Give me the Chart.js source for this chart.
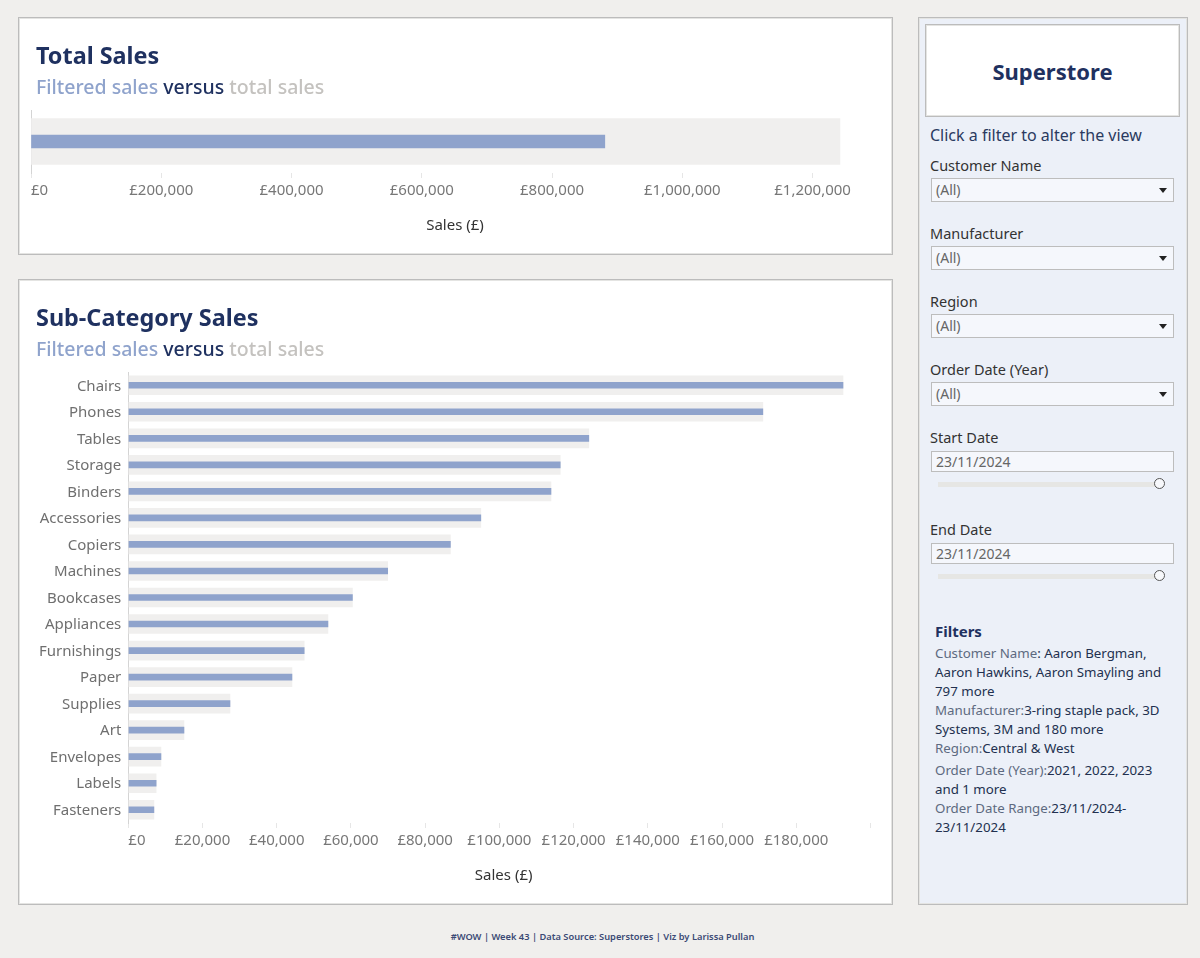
<!DOCTYPE html>
<html><head><meta charset="utf-8">
<script src="https://cdn.jsdelivr.net/npm/chart.js@4"></script>
<style>
html,body{margin:0;padding:0;background:#f0efed;width:1200px;height:958px;overflow:hidden;font-family:"Noto Sans",sans-serif}
.abs,.panel,canvas{position:absolute}
.panel{background:#fff;border:1px solid #bcbcbc;box-shadow:inset 0 0 0 1px #e4e4e2;box-sizing:border-box}
.t{position:absolute;white-space:nowrap;line-height:20px;transform:translateY(-50%)}
.h1{font-weight:700;font-size:23.4px;color:#1f3160;left:36px}
.h2{font-weight:500;font-size:19.5px;left:36px}
.box{position:absolute;left:931px;width:243px;background:#f5f7fc;border:1px solid #bdbdbd;box-sizing:border-box;font-size:14px;color:#666;padding-left:4px}
.arrow{position:absolute;right:6px;top:9px;width:0;height:0;border-left:4.5px solid transparent;border-right:4.5px solid transparent;border-top:5px solid #222}
.lab{left:930px;font-size:14.5px;color:#333}
.track{position:absolute;left:938px;width:222px;height:5px;background:#e6e6e4}
.knob{position:absolute;left:1154px;width:11px;height:11px;border-radius:50%;background:#f7f8fb;border:1.5px solid #555;box-sizing:border-box}
.f{left:935px;font-size:13.3px;color:#22304f}
.f span{color:#5d6a80}
</style></head><body>
<div class="panel" style="left:18px;top:17px;width:875px;height:238px"></div>
<div class="panel" style="left:18px;top:279px;width:875px;height:626px"></div>
<div class="panel" style="left:918px;top:17px;width:270px;height:888px;background:#ecf0f8"></div>
<canvas id="topChart" style="left:18px;top:17px;width:875px;height:237px"></canvas>
<canvas id="subChart" style="left:18px;top:279px;width:875px;height:625px"></canvas>
<div class="t h1" style="top:55px">Total Sales</div>
<div class="t h2" style="top:87px"><span style="color:#8fa3cc">Filtered sales</span> <span style="color:#1f3160">versus</span> <span style="color:#c4c2bf">total sales</span></div>
<div class="t h1" style="top:317px">Sub-Category Sales</div>
<div class="t h2" style="top:349px"><span style="color:#8fa3cc">Filtered sales</span> <span style="color:#1f3160">versus</span> <span style="color:#c4c2bf">total sales</span></div>

<div class="panel" style="left:925px;top:24px;width:255px;height:93px;background:#fff"></div>
<div class="t" style="left:925px;width:255px;text-align:center;top:71px;font-weight:700;font-size:22px;color:#1f3160">Superstore</div>
<div class="t" style="left:930px;top:135px;font-size:16px;color:#2a3a60">Click a filter to alter the view</div>

<div class="t lab" style="top:165px">Customer Name</div>
<div class="box" style="top:178px;height:24px;line-height:22px">(All)<div class="arrow"></div></div>
<div class="t lab" style="top:233px">Manufacturer</div>
<div class="box" style="top:246px;height:24px;line-height:22px">(All)<div class="arrow"></div></div>
<div class="t lab" style="top:301px">Region</div>
<div class="box" style="top:314px;height:24px;line-height:22px">(All)<div class="arrow"></div></div>
<div class="t lab" style="top:369px">Order Date (Year)</div>
<div class="box" style="top:382px;height:24px;line-height:22px">(All)<div class="arrow"></div></div>
<div class="t lab" style="top:437px">Start Date</div>
<div class="box" style="top:451px;height:21px;line-height:19px">23/11/2024</div>
<div class="track" style="top:482px"></div><div class="knob" style="top:478px"></div>
<div class="t lab" style="top:529px">End Date</div>
<div class="box" style="top:543px;height:21px;line-height:19px">23/11/2024</div>
<div class="track" style="top:574px"></div><div class="knob" style="top:570px"></div>

<div class="t f" style="top:631px;font-weight:700;font-size:15px;color:#1f3160">Filters</div>
<div class="t f" style="top:653px"><span>Customer Name</span>: Aaron Bergman,</div>
<div class="t f" style="top:672px">Aaron Hawkins, Aaron Smayling and</div>
<div class="t f" style="top:691px">797 more</div>
<div class="t f" style="top:710px"><span>Manufacturer:</span>3-ring staple pack, 3D</div>
<div class="t f" style="top:729px">Systems, 3M and 180 more</div>
<div class="t f" style="top:748px"><span>Region:</span>Central &amp; West</div>
<div class="t f" style="top:770px"><span>Order Date (Year):</span>2021, 2022, 2023</div>
<div class="t f" style="top:789px">and 1 more</div>
<div class="t f" style="top:808px"><span>Order Date Range:</span>23/11/2024-</div>
<div class="t f" style="top:827px">23/11/2024</div>

<div class="t" style="left:0;width:1205px;text-align:center;top:937px;font-weight:600;font-size:9.3px;color:#3b4a75">#WOW | Week 43 | Data Source: Superstores | Viz by Larissa Pullan</div>

<script>
const totalLabel = ["Sales"];
const totalFiltered = [881000];
const totalAll = [1242000];
const totalTicks = [0,200000,400000,600000,800000,1000000,1200000];

const categories = ["Chairs","Phones","Tables","Storage","Binders","Accessories","Copiers","Machines","Bookcases","Appliances","Furnishings","Paper","Supplies","Art","Envelopes","Labels","Fasteners"];
const subFiltered = [192600,171000,124100,116400,113900,95000,86800,69900,60400,53800,47400,44100,27400,15000,8800,7500,6900];
const subAll = [192600,171000,124100,116400,113900,95000,86800,69900,60400,53800,47400,44100,27400,15000,8800,7500,6900];
const subTicks = [0,20000,40000,60000,80000,100000,120000,140000,160000,180000,200000];
const subUnlabelledTicks = [200000];

const FONT = '"Noto Sans", sans-serif';
const BLUE = '#8fa3cc', BAND = '#f0efee';
const fmt = v => '£' + Number(v).toLocaleString('en-GB');

function makeChart(id, labels, filtered, all, ticks, unlabelled, axisMax, yWidth, thickBand, thickBar, padTop, padBottom, axisH, titlePad, tickPad) {
  return new Chart(document.getElementById(id), {
    type: 'bar',
    data: { labels, datasets: [
      { label: 'Filtered sales', data: filtered, backgroundColor: BLUE, barThickness: thickBar, order: 1, grouped: false },
      { label: 'Total sales', data: all, backgroundColor: BAND, barThickness: thickBand, order: 2, grouped: false }
    ]},
    options: {
      indexAxis: 'y', responsive: false, animation: false, devicePixelRatio: 1,
      layout: { padding: { left: id === 'topChart' ? 13 : 0, right: 14, top: padTop, bottom: padBottom } },
      plugins: { legend: { display: false }, tooltip: { enabled: false } },
      scales: {
        x: {
          min: 0, max: axisMax,
          afterBuildTicks: s => { s.ticks = ticks.concat([axisMax]).map(v => ({ value: v })); },
          afterFit: s => { s.height = axisH; },
          grid: { drawOnChartArea: false, tickLength: 5, tickColor: c => (c.tick && c.tick.value === axisMax) ? 'rgba(0,0,0,0)' : '#e6e6e6', lineWidth: 1 },
          border: { display: false },
          ticks: {
            autoSkip: false, maxRotation: 0, align: 'inner', padding: tickPad, color: '#777',
            font: { family: FONT, size: 15 },
            callback: v => (v === axisMax || unlabelled.includes(v)) ? '' : fmt(v)
          },
          title: { display: true, text: 'Sales (£)', color: '#333', font: { family: FONT, size: 15 }, padding: { top: 0, bottom: titlePad } }
        },
        y: {
          afterFit: s => { s.width = yWidth; },
          grid: { display: false, drawTicks: false },
          border: { display: true, color: '#d4d4d4', dash: [1, 3], width: 1 },
          ticks: { display: yWidth > 0, padding: 7, labelOffset: 1, color: '#6f6f6f', font: { family: FONT, size: 15 } }
        }
      }
    }
  });
}
function size(id, w, h){ const c = document.getElementById(id); c.width = w; c.height = h; }
size('topChart', 875, 237); size('subChart', 875, 625);
makeChart('topChart', totalLabel, totalFiltered, totalAll, totalTicks, [], 1302000, 0, 46, 13, 93, 19, 62, 0, 4);
makeChart('subChart', categories, subFiltered, subAll, subTicks, subUnlabelledTicks, 202300, 110.3, 19, 6, 93, 19, 62, 0, 4);
</script>
</body></html>
